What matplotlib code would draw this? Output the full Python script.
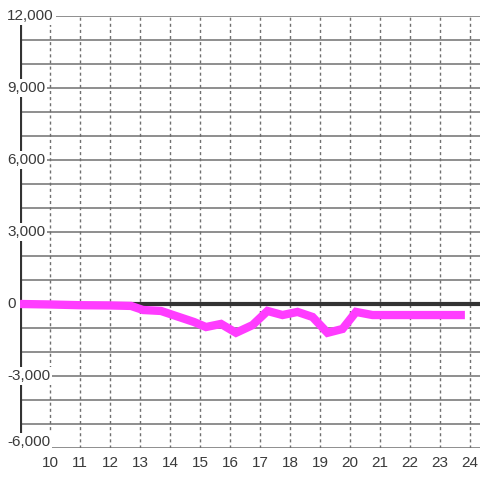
import numpy as np
import matplotlib
matplotlib.use('Agg')
import matplotlib.pyplot as plt
from matplotlib.transforms import blended_transform_factory

plt.rcParams['font.family'] = ['Liberation Sans', 'DejaVu Sans']

# hours of day and values
hours = [9.0, 10.0, 11.0, 12.0, 12.7, 13.1, 13.7, 14.2, 14.8, 15.2, 15.7,
         16.2, 16.75, 17.25, 17.75, 18.25, 18.75, 19.25, 19.75, 20.2, 20.75,
         23.83]
values = [0, -20, -50, -60, -80, -250, -290, -500, -750, -960, -830,
          -1200, -880, -290, -460, -330, -540, -1200, -1040, -330, -460,
          -460]

x_ticks = list(range(10, 25))
y_labels = [12000, 9000, 6000, 3000, 0, -3000, -6000]
y_minor = list(range(-6000, 12001, 1000))

fig = plt.figure(figsize=(4.8, 4.8), dpi=100)
ax = fig.add_axes([20 / 480, 32 / 480, 460 / 480, 432 / 480])
ax.set_xlim(9, 24 + 1 / 3)
ax.set_ylim(-6000, 12000)

for s in ax.spines.values():
    s.set_visible(False)

# grid
for v in y_minor:
    ax.axhline(v, color='#707070', lw=1.1, zorder=1)
for h in x_ticks:
    ax.axvline(h, color='#707070', lw=1.0, ls=(0, (2.2, 2.2)), zorder=1)

ax.axhline(0, color='#333333', lw=3, zorder=2)
ax.axvline(9, color='#333333', lw=3, zorder=2)

ax.plot(hours, values, color='#ff3cff', lw=6, solid_joinstyle='miter',
        solid_capstyle='butt', zorder=3)

ax.set_xticks(x_ticks)
ax.set_xticklabels([str(h) for h in x_ticks])
ax.tick_params(axis='x', length=0, pad=6, labelsize=11, labelcolor='#3a3a3a')
ax.set_yticks([])

trans = blended_transform_factory(ax.transAxes, ax.transData)
for v in y_labels:
    # the bottom label is nudged up so it stays above the x labels
    ypos = v + 250 if v == y_labels[-1] else v
    ax.text(-13 / 460, ypos, f'{v:,}', transform=trans, ha='left', va='center',
            fontsize=11, color='#3a3a3a', clip_on=False, zorder=5,
            bbox=dict(facecolor='white', edgecolor='none', pad=1.5))

fig.savefig('out.png', dpi=100)
